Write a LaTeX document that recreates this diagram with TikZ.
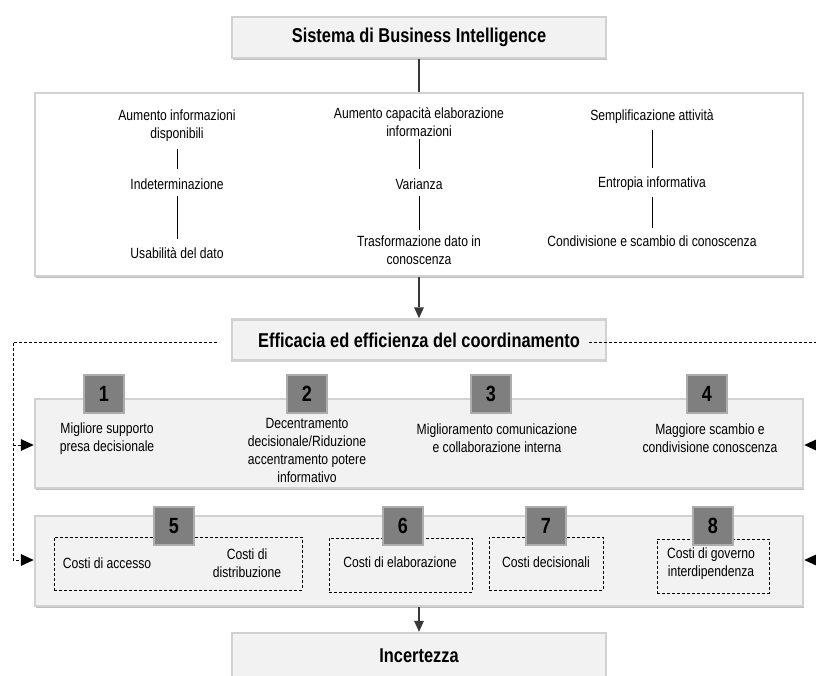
\documentclass[tikz,border=0pt]{standalone}
\usepackage{fontspec}
\setmainfont{Liberation Sans}[FakeStretch=0.82]
\usetikzlibrary{arrows.meta,shadows,backgrounds}
\definecolor{boxgray}{HTML}{F2F2F2}
\definecolor{numgray}{HTML}{7F7F7F}
\begin{document}
\begin{tikzpicture}[x=1pt,y=-1pt,
  every node/.style={font=\fontsize{14.8}{18}\selectfont, inner sep=0pt},
  shbox/.style={rectangle, draw=black!18, line width=2.5pt,
    drop shadow={shadow xshift=1.2pt, shadow yshift=-1.6pt, fill=black!45, opacity=0.55}},
  titlebox/.style={shbox, fill=boxgray, minimum width=374pt, minimum height=41pt,
    font=\fontsize{20}{24}\selectfont\bfseries},
  rowbox/.style={shbox, fill=boxgray, minimum width=768pt},
  numbox/.style={rectangle, fill=numgray, draw=black!32, line width=1.2pt,
    minimum width=40pt, minimum height=38pt, font=\fontsize{22}{24}\selectfont\bfseries,
    drop shadow={shadow xshift=1pt, shadow yshift=-1pt, fill=black!40, opacity=0.4}},
  costbox/.style={rectangle, draw, line width=0.7pt, dash pattern=on 3pt off 2pt},
  txt/.style={align=center},
  mainline/.style={draw=black!78, line width=1.6pt},
  thinline/.style={draw, line width=0.7pt},
  fb/.style={draw, line width=0.7pt, dash pattern=on 3pt off 2pt},
  fbarrow/.style={-{Triangle[length=13pt,width=12pt,line width=0pt]}},
  mainarrow/.style={-{Triangle[length=11pt,width=10pt,line width=0pt]}}
]
\useasboundingbox (0,0) rectangle (816,675);
\fill[white] (0,0) rectangle (816,675);

% main boxes
\node[titlebox] (bi) at (419,37.5) {Sistema di Business Intelligence};
\node[shbox, fill=white, minimum width=768pt, minimum height=183pt] (wb) at (419,184.5) {};
\node[titlebox] (eff) at (419,340) {Efficacia ed efficienza del coordinamento};
\node[rowbox, minimum height=89pt] (r1) at (419,443.5) {};
\node[rowbox, minimum height=90pt] (r2) at (419,561) {};
\node[titlebox, minimum height=46pt] (inc) at (419,656) {Incertezza};

% column texts in white box
\node[txt] (a1) at (177,126) {Aumento informazioni\\disponibili};
\node[txt] (a2) at (177,184) {Indeterminazione};
\node[txt] (a3) at (177,253) {Usabilità del dato};
\node[txt] (b1) at (419,122) {Aumento capacità elaborazione\\informazioni};
\node[txt] (b2) at (419,184) {Varianza};
\node[txt] (b3) at (419,250) {Trasformazione dato in\\conoscenza};
\node[txt] (c1) at (652,117) {Semplificazione attività};
\node[txt] (c2) at (652,184) {Entropia informativa};
\node[txt] (c3) at (652,241) {Condivisione e scambio di conoscenza};

\draw[thinline, shorten <=7pt, shorten >=9pt] (a1) -- (a2);
\draw[thinline, shorten <=6pt, shorten >=8pt] (a2) -- (a3);
\draw[thinline, shorten <=2pt, shorten >=9pt] (b1) -- (b2);
\draw[thinline, shorten <=6pt, shorten >=5pt] (b2) -- (b3);
\draw[thinline, shorten <=6pt, shorten >=9pt] (c1) -- (c2);
\draw[thinline, shorten <=6pt, shorten >=7pt] (c2) -- (c3);

% row 1
\node[txt] (t1) at (107,438.5) {Migliore supporto\\presa decisionale};
\node[txt] (t2) at (307,450) {Decentramento\\decisionale/Riduzione\\accentramento potere\\informativo};
\node[txt] (t3) at (497,438.5) {Miglioramento comunicazione\\e collaborazione interna};
\node[txt] (t4) at (710,438.5) {Maggiore scambio e\\condivisione conoscenza};
\node[numbox] (n1) at (104,394) {1};
\node[numbox] (n2) at (307,394) {2};
\node[numbox] (n3) at (491,394) {3};
\node[numbox] (n4) at (707,394) {4};

% row 2
\node[costbox, minimum width=248pt, minimum height=53pt] (d5) at (178,563.5) {};
\node[costbox, minimum width=143pt, minimum height=54pt] (d6) at (400.5,565) {};
\node[costbox, minimum width=114pt, minimum height=53pt] (d7) at (546,563.5) {};
\node[costbox, minimum width=112pt, minimum height=54pt] (d8) at (713,566) {};
\node[txt] (k1) at (107,563) {Costi di accesso};
\node[txt] (k2) at (247,563.5) {Costi di\\distribuzione};
\node[txt] (k3) at (400,562) {Costi di elaborazione};
\node[txt] (k4) at (546,562) {Costi decisionali};
\node[txt] (k5) at (711,564) {Costi di governo\\interdipendenza};
\node[numbox] (n5) at (174,526) {5};
\node[numbox] (n6) at (403,526) {6};
\node[numbox] (n7) at (546,526) {7};
\node[numbox] (n8) at (713,526) {8};

% main connectors
\draw[mainline] (bi) -- (wb);
\draw[mainline, mainarrow] (wb) -- (eff);
\begin{scope}[on background layer]
\draw[mainline] (eff) -- (r2);
\end{scope}
\draw[mainline, mainarrow] (r2) -- (inc);

% feedback dashed lines
\coordinate (L1) at (13,445);
\coordinate (L2) at (13,560);
\coordinate (R1) at (818,445);
\coordinate (R2) at (818,560);
\draw[fb, fbarrow] ([xshift=-14pt,yshift=-2pt]eff.west) -| (L2) -- (r2.west |- L2);
\draw[fb, fbarrow] (L1) -- (r1.west |- L1);
\draw[fb, fbarrow] ([xshift=-18pt,yshift=-2pt]eff.east) -| (R2) -- (r2.east |- R2);
\draw[fb, fbarrow] (R1) -- (r1.east |- R1);
\end{tikzpicture}
\end{document}
